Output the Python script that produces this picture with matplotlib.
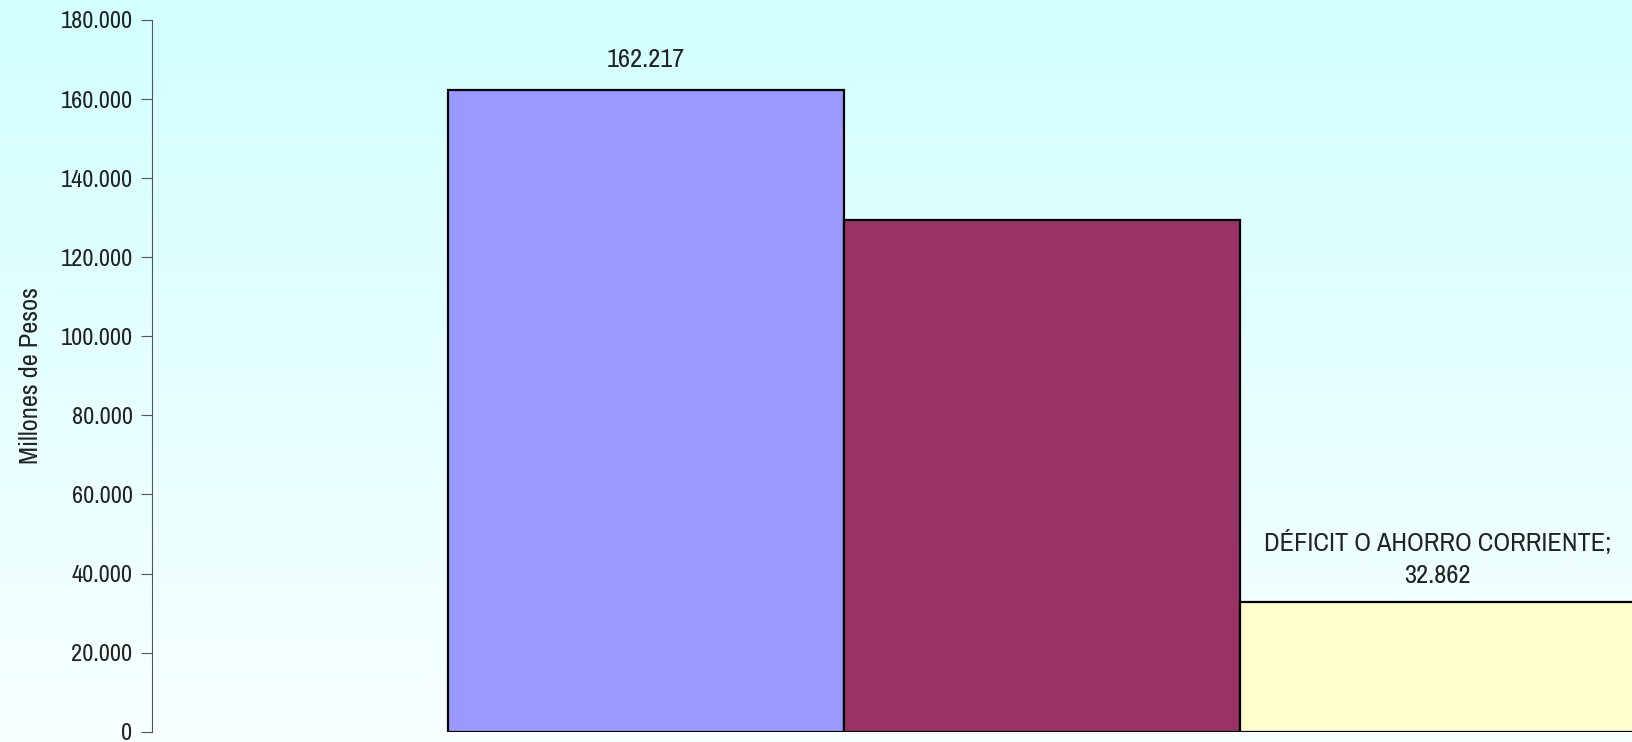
import numpy as np
import matplotlib
matplotlib.use('Agg')
import matplotlib.pyplot as plt
from matplotlib.colors import LinearSegmentedColormap

categorias = ['INGRESOS CORRIENTES', 'GASTOS CORRIENTES', 'DÉFICIT O AHORRO CORRIENTE']
valores = [162217, 129355, 32862]
colores = ['#9999FF', '#993366', '#FFFFCC']

plt.rcParams['font.family'] = ['Archivo Narrow', 'Liberation Sans', 'DejaVu Sans']

def miles(v):
    return f'{v:,.0f}'.replace(',', '.')

fig = plt.figure(figsize=(16.33, 7.42), dpi=100)

# fondo degradado
fondo = fig.add_axes([0, 0, 1, 1], zorder=-1)
cmap = LinearSegmentedColormap.from_list('fondo', ['#D2FFFF', '#F8FFFF'])
fondo.imshow(np.linspace(0, 1, 256).reshape(-1, 1), aspect='auto', cmap=cmap, extent=[0, 1, 0, 1])
fondo.axis('off')

ax = fig.add_axes([152 / 1633, 10.3 / 742, 1 - 152 / 1633, (731.7 - 20) / 742])
ax.patch.set_alpha(0)
x = np.arange(len(valores))
ax.bar(x, valores, width=1.0, color=colores, edgecolor='black', linewidth=1.6)

ax.set_ylim(0, 180000)
ax.set_xlim(-1.247, 2.493)
ax.set_yticks(range(0, 180001, 20000))
ax.set_yticklabels([miles(v) for v in range(0, 180001, 20000)], fontsize=17.5, color='#222222')
ax.set_xticks([])
for s in ['top', 'right', 'bottom']:
    ax.spines[s].set_visible(False)
ax.spines['left'].set_color('#555555')
ax.tick_params(axis='y', length=8, color='#555555', pad=6)
ax.set_ylabel('Millones de Pesos', fontsize=19, labelpad=13, color='#222222')

ax.annotate(miles(valores[0]), (x[0], valores[0]), xytext=(0, 19), textcoords='offset pixels',
            ha='center', va='bottom', fontsize=19, color='#222222')
ax.annotate(categorias[2] + ';\n' + miles(valores[2]), (x[2], valores[2]), xytext=(0, 15),
            textcoords='offset pixels', ha='center', va='bottom', fontsize=19, linespacing=1.45,
            color='#222222')

fig.savefig('out.png', dpi=100)
